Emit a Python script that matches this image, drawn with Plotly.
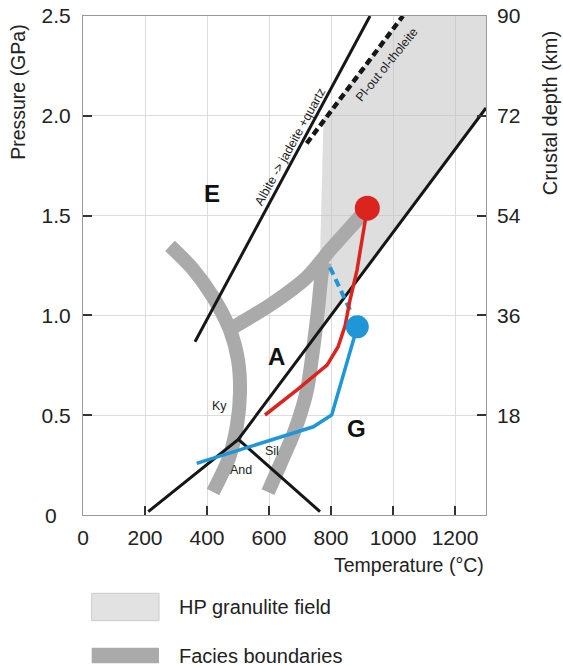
import plotly.graph_objects as go

# ---------------- data (temperature °C, pressure GPa) ----------------
hp_field_T = [761, 766, 776, 1032, 1300, 1300, 761]
hp_field_P = [0.919, 1.38, 1.99, 2.5, 2.5, 2.039, 0.919]

facies_left_T = [280.6, 351.6, 419.4, 474.2, 500.0, 506.5, 496.8, 471.0, 419.4]
facies_left_P = [1.348, 1.237, 1.092, 0.927, 0.777, 0.616, 0.451, 0.286, 0.115]

facies_branch_T = [487.1, 612.9, 722.6, 800.0, 883.9, 912.9]
facies_branch_P = [0.942, 1.062, 1.192, 1.333, 1.478, 1.528]

facies_right_T = [780.6, 771.0, 758.0, 741.9, 722.6, 683.9, 635.5, 596.8]
facies_right_P = [1.268, 1.217, 1.027, 0.827, 0.626, 0.426, 0.251, 0.115]

albite_T = [361.3, 925.8]
albite_P = [0.868, 2.5]

plout_T = [721.6, 1032.0]
plout_P = [1.862, 2.5]

boundary_T = [210.6, 501.0, 1300.0]
boundary_P = [0.017, 0.379, 2.039]

andsil_T = [501.0, 764.5]
andsil_P = [0.379, 0.017]

red_T = [587.1, 693.5, 787.1, 822.6, 845.2, 861.3, 883.9, 917.1]
red_P = [0.501, 0.631, 0.751, 0.842, 0.947, 1.077, 1.227, 1.537]

blue_T = [366.8, 742.9, 802.3, 884.8]
blue_P = [0.259, 0.442, 0.501, 0.943]

blue_dash_T = [796.8, 861.3]
blue_dash_P = [1.241, 1.027]

red_peak = (917.1, 1.537)
blue_peak = (884.8, 0.943)

x_ticks = [0, 200, 400, 600, 800, 1000, 1200]
y_ticks = [0.5, 1.0, 1.5, 2.0, 2.5]
y_tick_labels = ["0.5", "1.0", "1.5", "2.0", "2.5"]
depth_ticks = [18, 36, 54, 72, 90]

field_labels = [("E", 415.2, 1.611), ("A", 624.8, 0.793), ("G", 882.9, 0.434)]
small_labels = [("Ky", 439.4, 0.547), ("Sil", 610.6, 0.322), ("And", 508.7, 0.225)]

# ---------------- styles ----------------
FONT = "Liberation Sans, Arial, sans-serif"
TXT = "#222222"
FACIES = "#aaaaaa"
RED = "#dc241f"
BLUE = "#1e96d7"
BLACK = "#161616"

fig = go.Figure()

fig.add_trace(go.Scatter(x=hp_field_T, y=hp_field_P, fill="toself", mode="lines",
                         line=dict(width=0, color="rgba(0,0,0,0)"),
                         fillcolor="rgba(190,190,190,0.5)", hoverinfo="skip"))

for tx, py in [(facies_left_T, facies_left_P), (facies_branch_T, facies_branch_P),
               (facies_right_T, facies_right_P)]:
    fig.add_trace(go.Scatter(x=tx, y=py, mode="lines",
                             line=dict(color=FACIES, width=14, shape="spline", smoothing=0.8)))

for tx, py, dash, w in [(albite_T, albite_P, "solid", 3),
                        (boundary_T, boundary_P, "solid", 3),
                        (andsil_T, andsil_P, "solid", 3),
                        (plout_T, plout_P, "7px,4px", 4.5)]:
    fig.add_trace(go.Scatter(x=tx, y=py, mode="lines",
                             line=dict(color=BLACK, width=w, dash=dash)))

fig.add_trace(go.Scatter(x=blue_dash_T, y=blue_dash_P, mode="lines",
                         line=dict(color=BLUE, width=4, dash="8px,5px")))
fig.add_trace(go.Scatter(x=red_T, y=red_P, mode="lines", line=dict(color=RED, width=3.5)))
fig.add_trace(go.Scatter(x=blue_T, y=blue_P, mode="lines", line=dict(color=BLUE, width=3.5)))
fig.add_trace(go.Scatter(x=[red_peak[0]], y=[red_peak[1]], mode="markers",
                         marker=dict(color=RED, size=25)))
fig.add_trace(go.Scatter(x=[blue_peak[0]], y=[blue_peak[1]], mode="markers",
                         marker=dict(color=BLUE, size=23)))

# secondary axis for crustal depth
fig.add_trace(go.Scatter(x=[None], y=[None], yaxis="y2", showlegend=False))

ann = []
for t, x, y in field_labels:
    ann.append(dict(text="<b>%s</b>" % t, x=x, y=y, xref="x", yref="y", showarrow=False,
                    font=dict(family=FONT, size=24, color="#111111")))
for t, x, y in small_labels:
    ann.append(dict(text=t, x=x, y=y, xref="x", yref="y", showarrow=False,
                    font=dict(family=FONT, size=12.5, color=TXT)))
ann.append(dict(text="Albite -> jadeite +quartz", x=667.7, y=1.845, xref="x", yref="y",
                showarrow=False, textangle=-61, font=dict(family=FONT, size=12.5, color=TXT)))
ann.append(dict(text="Pl-out ol-tholeite", x=979.7, y=2.254, xref="x", yref="y",
                showarrow=False, textangle=-51, font=dict(family=FONT, size=12.5, color=TXT)))
ann.append(dict(text="0", x=-0.079, y=0, xref="paper", yref="y", showarrow=False,
                xanchor="center", yanchor="middle", font=dict(family=FONT, size=21, color=TXT)))
ann.append(dict(text="Temperature (°C)", x=1.0, y=-0.1, xref="paper", yref="paper",
                xanchor="right", yanchor="middle", showarrow=False,
                font=dict(family=FONT, size=19.5, color=TXT)))
ann.append(dict(text="Pressure (GPa)", x=-0.1605, y=0.8467, xref="paper", yref="paper",
                xanchor="center", yanchor="middle",
                textangle=-90, showarrow=False, font=dict(family=FONT, size=19.5, color=TXT)))
ann.append(dict(text="Crustal depth (km)", x=1.1588, y=0.807, xref="paper", yref="paper",
                xanchor="center", yanchor="middle",
                textangle=-90, showarrow=False, font=dict(family=FONT, size=20, color=TXT)))
ann.append(dict(text="HP granulite field", x=0.2325, y=-0.1838, xref="paper", yref="paper",
                xanchor="left", yanchor="middle", showarrow=False,
                font=dict(family=FONT, size=20, color=TXT)))
ann.append(dict(text="Facies boundaries", x=0.2325, y=-0.2816, xref="paper", yref="paper",
                xanchor="left", yanchor="middle", showarrow=False,
                font=dict(family=FONT, size=20, color=TXT)))

shapes = [
    dict(type="rect", xref="paper", yref="paper", x0=0.0216, x1=0.1886, y0=-0.2118, y1=-0.1569,
         fillcolor="#e2e2e2", line=dict(color="#cccccc", width=1), layer="above"),
    dict(type="rect", xref="paper", yref="paper", x0=0.0216, x1=0.1886, y0=-0.2972, y1=-0.2659,
         fillcolor=FACIES, line=dict(width=0), layer="above"),
]

fig.update_layout(
    width=563, height=666,
    margin=dict(l=83, r=77, t=16, b=151, autoexpand=False),
    paper_bgcolor="white", plot_bgcolor="white",
    showlegend=False,
    font=dict(family=FONT, color=TXT),
    annotations=ann, shapes=shapes,
    xaxis=dict(range=[0, 1300], tickvals=x_ticks, ticks="inside", ticklen=9, tickwidth=2,
               tickcolor="#333333", showgrid=True, gridcolor="#dcdcdc", gridwidth=1,
               showline=True, linecolor="#9a9a9a", linewidth=1.2, mirror=True,
               zeroline=False, tickfont=dict(family=FONT, size=21, color=TXT),
               ticklabelstandoff=4, automargin=False),
    yaxis=dict(range=[0, 2.5], tickvals=y_ticks, ticktext=y_tick_labels, ticks="inside",
               ticklen=9, tickwidth=2, tickcolor="#333333", showgrid=True, gridcolor="#dcdcdc",
               gridwidth=1, showline=True, linecolor="#9a9a9a", linewidth=1.2, mirror=True,
               zeroline=False, tickfont=dict(family=FONT, size=21, color=TXT),
               ticklabelstandoff=7, automargin=False),
    yaxis2=dict(range=[0, 90], tickvals=depth_ticks, overlaying="y", side="right",
                ticks="inside", ticklen=9, tickwidth=2, tickcolor="#333333", showgrid=False,
                showline=False, zeroline=False, tickfont=dict(family=FONT, size=21, color=TXT),
                ticklabelstandoff=10, automargin=False),
)

fig.write_html("out.html", config={"displayModeBar": False},
               post_script="document.body.style.margin='0';document.body.style.overflow='hidden';")
